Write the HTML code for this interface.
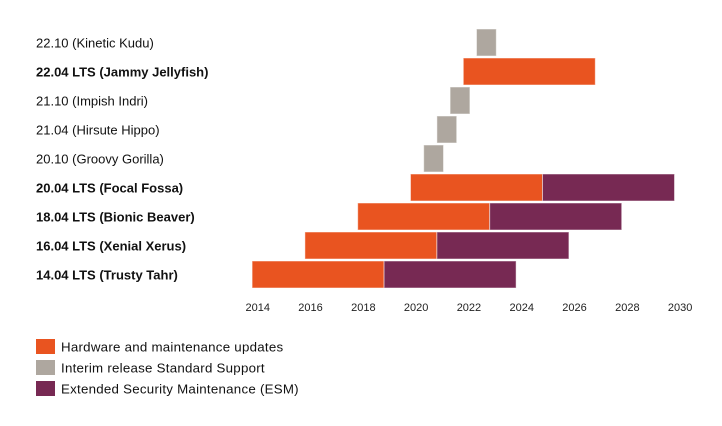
<!DOCTYPE html>
<html><head><meta charset="utf-8"><style>
body{margin:0;background:#fff;width:722px;height:421px;overflow:hidden;font-family:"Liberation Sans",sans-serif}
</style></head><body>
<svg id="chart" width="722" height="421" font-family="Liberation Sans, sans-serif"></svg>
<script>
const releases=["22.10 (Kinetic Kudu)","22.04 LTS (Jammy Jellyfish)","21.10 (Impish Indri)","21.04 (Hirsute Hippo)","20.10 (Groovy Gorilla)","20.04 LTS (Focal Fossa)","18.04 LTS (Bionic Beaver)","16.04 LTS (Xenial Xerus)","14.04 LTS (Trusty Tahr)"];
const isLTS=[false,true,false,false,false,true,true,true,true];
const startYear=[2022.75,2022.25,2021.75,2021.25,2020.75,2020.25,2018.25,2016.25,2014.25];
const supportEnd=[2023.5,2027.25,2022.5,2022.0,2021.5,2025.25,2023.25,2021.25,2019.25];
const esmEnd=[null,null,null,null,null,2030.25,2028.25,2026.25,2024.25];
const ticks=[2014,2016,2018,2020,2022,2024,2026,2028,2030];
const legendLabels=["Hardware and maintenance updates","Interim release Standard Support","Extended Security Maintenance (ESM)"];
const ORANGE="#E95420",GRAY="#AEA79F",PURPLE="#772953";
const svg=document.getElementById('chart');const NS="http://www.w3.org/2000/svg";
const x=y=>245.5+(y-2014)*26.4;
const rowY=i=>43+i*29;
function mk(t,a){const e=document.createElementNS(NS,t);for(const k in a)e.setAttribute(k,a[k]);svg.appendChild(e);return e;}
releases.forEach((r,i)=>{
  const t=mk('text',{x:36,y:rowY(i)+4.5,'font-size':13,fill:'#111','font-weight':isLTS[i]?'bold':'normal'});
  t.textContent=r;
  
  
  const c=isLTS[i]?ORANGE:GRAY;
  const b=mk('rect',{x:x(startYear[i]),y:rowY(i)-14,width:x(supportEnd[i])-x(startYear[i]),height:27,fill:c,stroke:'rgba(255,255,255,0.5)','stroke-width':1});
  
  
  if(esmEnd[i]!==null){
    const e=mk('rect',{x:x(supportEnd[i]),y:rowY(i)-14,width:x(esmEnd[i])-x(supportEnd[i]),height:27,fill:PURPLE,stroke:'rgba(255,255,255,0.5)','stroke-width':1});
    
    
  }
});
ticks.forEach(tk=>{
  const t=mk('text',{x:x(tk),y:311,'font-size':11,fill:'#222'});
  t.textContent=tk;
  
  
});
const lc=[ORANGE,GRAY,PURPLE];
legendLabels.forEach((l,i)=>{
  const r=mk('rect',{x:36,y:339+i*21,width:19,height:15,fill:lc[i]});
  
  
  const t=mk('text',{x:61,y:351.5+i*21,'font-size':13.3,'letter-spacing':0.25,fill:'#111'});
  t.textContent=l;
  
  
});
</script>
</body></html>
